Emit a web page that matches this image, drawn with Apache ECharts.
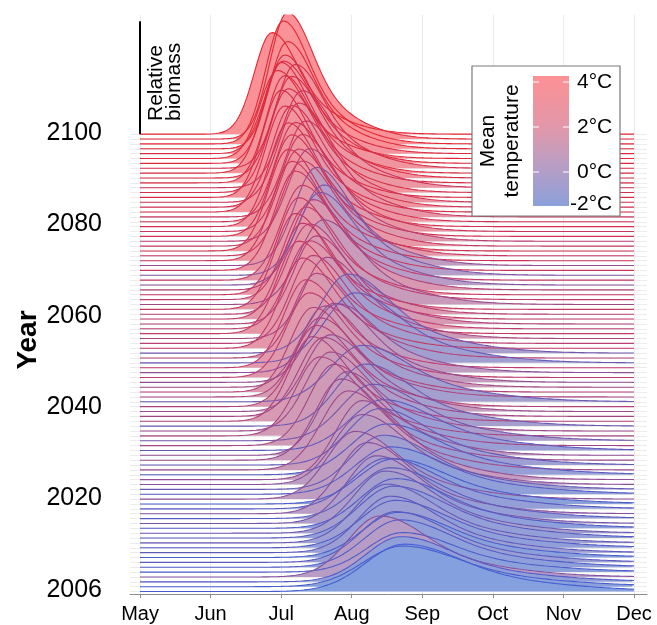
<!DOCTYPE html>
<html>
<head>
<meta charset="utf-8">
<script src="https://cdn.jsdelivr.net/npm/echarts@6/dist/echarts.min.js"></script>
<style>
  html, body { margin: 0; padding: 0; background: #fff; }
  #main { width: 657px; height: 625px; }
</style>
</head>
<body>
<div id="main"></div>
<script>
// x轴 月份（0 = 5月1日）
const monthLabels = ['May', 'Jun', 'Jul', 'Aug', 'Sep', 'Oct', 'Nov', 'Dec']
// y轴 刻度文字及其所在位置（年份坐标）
const yLabelText = ['2006', '2020', '2040', '2060', '2080', '2100']
const yLabelPos = [2006.3, 2025.2, 2043.9, 2062.6, 2081.5, 2100.2]

// 每年（2006 -> 2100）峰值所在月份
const peakMonth = [
  3.75, 3.72, 3.70, 3.40, 3.72, 3.68, 3.62, 3.66, 3.55, 3.62,
  3.50, 3.60, 3.48, 3.62, 3.35, 3.55, 3.22, 3.50, 3.60, 3.05,
  3.55, 3.45, 3.15, 3.15, 3.50, 2.95, 3.40, 2.85, 2.93, 3.45,
  2.75, 3.30, 2.55, 2.70, 3.20, 2.44, 2.60, 2.70, 2.50, 3.15,
  2.55, 2.45, 2.62, 2.75, 2.40, 2.80, 2.35, 3.05, 2.50, 2.95,
  2.30, 2.45, 2.65, 2.25, 2.40, 2.50, 2.30, 2.40, 2.20, 2.60,
  2.35, 2.25, 2.45, 2.55, 2.30, 2.60, 2.20, 2.50, 2.15, 2.30,
  2.10, 2.25, 2.40, 2.15, 2.30, 2.10, 2.20, 2.35, 2.05, 2.15,
  2.25, 2.00, 2.10, 2.30, 2.05, 2.15, 2.00, 2.20, 2.05, 1.95,
  2.03, 2.09, 2.03, 2.09, 1.87
]
// 峰值相对生物量
const biomass = [
  0.42, 0.36, 0.40, 0.54, 0.35, 0.42, 0.45, 0.40, 0.50, 0.42,
  0.52, 0.46, 0.55, 0.44, 0.60, 0.45, 0.63, 0.45, 0.40, 0.60,
  0.42, 0.48, 0.62, 0.70, 0.45, 0.70, 0.50, 0.72, 0.74, 0.45,
  0.72, 0.50, 0.70, 0.70, 0.55, 0.75, 0.70, 0.68, 0.72, 0.50,
  0.70, 0.75, 0.72, 0.70, 0.75, 0.61, 0.78, 0.62, 0.75, 0.70,
  0.80, 0.78, 0.72, 0.82, 0.78, 0.78, 0.85, 0.80, 0.85, 0.75,
  0.82, 0.86, 0.80, 0.82, 0.84, 0.80, 0.88, 0.87, 0.88, 0.84,
  0.90, 0.86, 0.82, 0.90, 0.86, 0.92, 0.88, 0.85, 0.94, 0.90,
  0.88, 0.95, 0.92, 0.86, 0.95, 0.90, 0.98, 0.92, 0.96, 0.78,
  0.82, 0.95, 1.09, 1.12, 0.90
]
// 上升段宽度（月）
const spread = [
  0.55, 0.55, 0.50, 0.45, 0.50, 0.50, 0.48, 0.50, 0.45, 0.50,
  0.45, 0.50, 0.45, 0.50, 0.42, 0.48, 0.40, 0.48, 0.50, 0.40,
  0.50, 0.45, 0.40, 0.38, 0.50, 0.38, 0.45, 0.36, 0.36, 0.48,
  0.35, 0.45, 0.34, 0.35, 0.42, 0.32, 0.34, 0.35, 0.33, 0.45,
  0.33, 0.32, 0.34, 0.35, 0.32, 0.36, 0.31, 0.42, 0.32, 0.40,
  0.30, 0.31, 0.33, 0.30, 0.31, 0.32, 0.30, 0.31, 0.29, 0.34,
  0.30, 0.29, 0.31, 0.33, 0.30, 0.33, 0.29, 0.31, 0.28, 0.30,
  0.28, 0.29, 0.30, 0.28, 0.29, 0.27, 0.28, 0.29, 0.27, 0.28,
  0.28, 0.26, 0.27, 0.29, 0.26, 0.27, 0.26, 0.27, 0.26, 0.25,
  0.26, 0.25, 0.25, 0.25, 0.25
]
// 平均温度 (°C)
const meanTemp = [
  -1.8, -1.6, -1.3, 0.2, -1.5, -1.4, -1.0, -1.6, -0.9, -1.3,
  -0.8, -1.2, -0.5, -1.4, -0.1, -1.1, 0.3, -1.2, -1.5, 0.5,
  -1.3, -0.7, 0.4, 0.7, -1.1, 1.0, -0.8, 0.9, 0.6, -1.0,
  1.2, -0.3, 1.3, 1.0, -0.5, 1.5, 1.2, 0.8, 1.6, -0.6,
  1.4, 1.7, 1.1, 0.7, 1.9, 0.5, 2.0, -0.7, 1.6, -0.3,
  2.2, 1.8, 1.2, 2.3, 1.9, 1.5, 2.1, 1.7, 2.4, 0.9,
  2.0, 2.5, 1.6, 0.2, 2.2, 0.0, 2.6, 0.6, 2.8, 2.3,
  3.0, 2.4, 1.8, 3.0, 2.6, 3.1, 2.9, 2.5, 3.3, 3.0,
  2.8, 3.4, 3.2, 2.7, 3.5, 3.3, 3.6, 3.2, 3.7, 3.8,
  3.5, 3.9, 4.0, 3.9, 4.0
]
const years = peakMonth.map((_, i) => 2006 + i)
// 图例刻度
const tempTicks = [4, 2, 0, -2]

// 1 单位相对生物量对应的年份高度
const BIOMASS_SCALE = 23.2
const FONT = '"Liberation Sans", Arial, sans-serif'

// 温度 -> 颜色（-2, 0, 2, 4 °C）
const fillStops = [[127, 160, 224], [178, 158, 200], [226, 152, 170], [250, 145, 150]]
const lineStops = [[60, 95, 215], [125, 85, 165], [192, 60, 110], [226, 40, 52]]
function tempColor(stops, t) {
  const p = Math.max(0, Math.min(3, (t + 2) / 2))
  const i = Math.min(2, Math.floor(p))
  const f = p - i
  const c = stops[i].map((v, k) => Math.round(v + (stops[i + 1][k] - v) * f))
  return 'rgb(' + c.join(',') + ')'
}

// 峰形：左侧陡升，右侧拖尾
function ridgeShape(d, s) {
  if (d < 0) return Math.exp(-0.5 * (d / s) ** 2)
  return 0.6 * Math.exp(-0.5 * (d / (1.3 * s)) ** 2) + 0.4 * Math.exp(-0.5 * (d / (2.9 * s)) ** 2)
}

// series：从 2100 往下画，下方年份覆盖上方
const series = []
for (let i = years.length - 1; i >= 0; i--) {
  const data = []
  for (let k = 0; k <= 350; k++) {
    const x = k * 0.02
    data.push([x, years[i] + biomass[i] * BIOMASS_SCALE * ridgeShape(x - peakMonth[i], spread[i])])
  }
  series.push({
    type: 'line',
    data,
    showSymbol: false,
    silent: true,
    lineStyle: { color: tempColor(lineStops, meanTemp[i]), width: 1.1 },
    areaStyle: { color: tempColor(fillStops, meanTemp[i]), opacity: 1, origin: years[i] }
  })
}
// 比例尺
series.push({
  type: 'line',
  data: [[0, 2100], [0, 2100 + BIOMASS_SCALE]],
  showSymbol: false,
  silent: true,
  lineStyle: { color: '#000', width: 2 }
})

// 图例（色条）
const barTop = 76, barBottom = 206, barX = 533, barW = 36
const tempY = t => Math.min(barBottom - 2, 172 - t * 22.5)
const gradStops = []
for (let k = 0; k <= 10; k++) {
  const t = 4.27 - (4.27 + 1.51) * k / 10
  gradStops.push({ offset: k / 10, color: tempColor(fillStops, t) })
}
const legendItems = [
  { type: 'rect', z: 100, shape: { x: 472, y: 66, width: 148, height: 150 },
    style: { fill: '#fff', stroke: '#7a7a7a', lineWidth: 1.2 } },
  { type: 'rect', z: 101, shape: { x: barX, y: barTop, width: barW, height: barBottom - barTop },
    style: { fill: new echarts.graphic.LinearGradient(0, 0, 0, 1, gradStops) } },
  { type: 'text', z: 101, x: 500, y: 141, rotation: Math.PI / 2,
    style: { text: 'Mean\ntemperature', font: '21px ' + FONT, fill: '#000',
      textAlign: 'center', textVerticalAlign: 'middle', lineHeight: 24 } }
]
tempTicks.forEach(t => {
  const y = tempY(t)
  if (t > -2) {
    legendItems.push({ type: 'line', z: 102, shape: { x1: barX, y1: y, x2: barX + 6, y2: y }, style: { stroke: '#fff', lineWidth: 1 } })
    legendItems.push({ type: 'line', z: 102, shape: { x1: barX + barW - 6, y1: y, x2: barX + barW, y2: y }, style: { stroke: '#fff', lineWidth: 1 } })
  }
  legendItems.push({ type: 'text', z: 101, x: t < 0 ? 570 : 577, y,
    style: { text: t + '°C', font: '21px ' + FONT, fill: '#000', textAlign: 'left', textVerticalAlign: 'middle' } })
})

const option = {
  animation: false,
  backgroundColor: '#fff',
  grid: { left: 130, right: 10, top: 15, bottom: 31 },
  xAxis: {
    type: 'value',
    min: -0.142,
    max: 7.184,
    axisLine: { show: true, lineStyle: { color: '#8c8c8c', width: 1 } },
    axisTick: { show: true, length: 4, customValues: monthLabels.map((_, i) => i), lineStyle: { color: '#8c8c8c' } },
    axisLabel: {
      customValues: monthLabels.map((_, i) => i),
      formatter: v => monthLabels[Math.round(v)],
      color: '#000', fontSize: 20, fontFamily: FONT, margin: 10
    },
    splitLine: { show: true, lineStyle: { color: '#ebebeb', width: 1 } }
  },
  yAxis: {
    type: 'value',
    min: 2005.5,
    max: 2124.49,
    axisLine: { show: false },
    axisTick: { show: false, customValues: years },
    axisLabel: {
      customValues: yLabelPos,
      formatter: v => {
        const i = yLabelPos.findIndex(p => Math.abs(p - v) < 0.05)
        return i >= 0 ? yLabelText[i] : ''
      },
      color: '#000', fontSize: 25, fontFamily: FONT, margin: 28
    },
    splitLine: { show: true, lineStyle: { color: '#ebebeb', width: 1 } }
  },
  series,
  graphic: [
    { type: 'text', x: 28, y: 340, rotation: Math.PI / 2,
      style: { text: 'Year', font: 'bold 28px ' + FONT, fill: '#000', textAlign: 'center', textVerticalAlign: 'middle' } },
    { type: 'text', x: 165, y: 121, rotation: Math.PI / 2,
      style: { text: 'Relative\nbiomass', font: '21px ' + FONT, fill: '#000', textAlign: 'left', textVerticalAlign: 'middle', lineHeight: 18 } },
    ...legendItems
  ]
}

const chart = echarts.init(document.getElementById('main'))
chart.setOption(option)
window.addEventListener('resize', chart.resize)
</script>
</body>
</html>
